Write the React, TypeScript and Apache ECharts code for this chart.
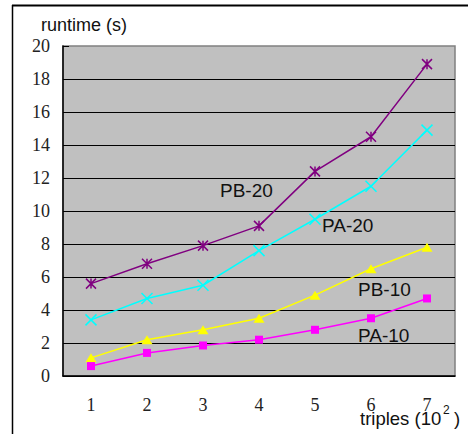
import React, { useEffect, useRef } from "react";
import * as echarts from "echarts";

const categories = ["1", "2", "3", "4", "5", "6", "7"];
const pb20 = [5.6, 6.8, 7.9, 9.1, 12.4, 14.5, 18.9];
const pa20 = [3.4, 4.7, 5.5, 7.6, 9.5, 11.5, 14.9];
const pb10 = [1.1, 2.2, 2.8, 3.5, 4.9, 6.5, 7.8];
const pa10 = [0.6, 1.4, 1.85, 2.2, 2.8, 3.5, 4.7];

const STAR = "path://M0,0L10,10M10,0L0,10M5,0L5,10";
const CROSS = "path://M0,0L10,10M10,0L0,10";

export default function App() {
  const ref = useRef<HTMLDivElement>(null);
  useEffect(() => {
    const chart = echarts.init(ref.current!, null, { renderer: "svg" });
    const serif = "'Liberation Serif', 'Times New Roman', serif";
    const sans = "'Liberation Sans', Arial, sans-serif";
    const mk = (name: string, data: number[], color: string, symbol: string, size: number | number[], stroke: boolean) => ({
      name,
      type: "line",
      data,
      symbol,
      symbolSize: size,
      showSymbol: true,
      lineStyle: { color, width: 1.5 },
      itemStyle: stroke
        ? { color: "transparent", borderColor: color, borderWidth: 1.5 }
        : { color, borderWidth: 0 },
      emphasis: { disabled: true },
    });
    chart.setOption({
      animation: false,
      grid: {
        left: 63,
        top: 46,
        right: 13,
        bottom: 58,
        show: true,
        backgroundColor: "#c0c0c0",
        borderColor: "#808080",
        borderWidth: 1.5,
      },
      xAxis: {
        type: "category",
        data: categories,
        boundaryGap: true,
        axisLine: { lineStyle: { color: "#000", width: 1.5 } },
        axisTick: { inside: true, length: 5, lineStyle: { color: "#000" } },
        axisLabel: { fontFamily: serif, fontSize: 18, color: "#222", margin: 20 },
        splitLine: { show: false },
      },
      yAxis: {
        type: "value",
        min: 0,
        max: 20,
        interval: 2,
        axisLine: { show: true, lineStyle: { color: "#000", width: 1.5 } },
        axisTick: { show: true, inside: true, length: 6, lineStyle: { color: "#000" } },
        axisLabel: { fontFamily: serif, fontSize: 18, color: "#222", margin: 13 },
        splitLine: { show: true, showMaxLine: false, lineStyle: { color: "#000", width: 1 } },
      },
      series: [
        mk("PB-20", pb20, "#800080", STAR, 10, true),
        mk("PA-20", pa20, "#00ffff", CROSS, 11, true),
        mk("PB-10", pb10, "#ffff00", "triangle", [11, 9], false),
        mk("PA-10", pa10, "#ff00ff", "rect", 8, false),
      ],
      graphic: [
        { type: "line", shape: { x1: 12.5, y1: 5, x2: 12.5, y2: 434 }, style: { stroke: "#000", lineWidth: 1.5 } },
        { type: "line", shape: { x1: 12, y1: 5.5, x2: 468, y2: 5.5 }, style: { stroke: "#000", lineWidth: 2 } },
        { type: "text", left: 41, top: 16, style: { text: "runtime (s)", font: `18px ${sans}`, fill: "#111" } },
        { type: "text", left: 220, top: 181, style: { text: "PB-20", font: `19px ${sans}`, fill: "#111" } },
        { type: "text", left: 322, top: 216, style: { text: "PA-20", font: `19px ${sans}`, fill: "#111" } },
        { type: "text", left: 358, top: 280, style: { text: "PB-10", font: `19px ${sans}`, fill: "#111" } },
        { type: "text", left: 358, top: 326, style: { text: "PA-10", font: `19px ${sans}`, fill: "#111" } },
        { type: "text", left: 360, top: 409, style: { text: "triples (10", font: `18.5px ${sans}`, fill: "#111" } },
        { type: "text", left: 443, top: 404, style: { text: "2", font: `12px ${sans}`, fill: "#111" } },
        { type: "text", left: 454, top: 409, style: { text: ")", font: `18.5px ${sans}`, fill: "#111" } },
      ],
    });
    return () => chart.dispose();
  }, []);
  return (
    <div
      ref={ref}
      style={{ position: "fixed", left: 0, top: 0, width: 468, height: 434, background: "#fff" }}
    />
  );
}
